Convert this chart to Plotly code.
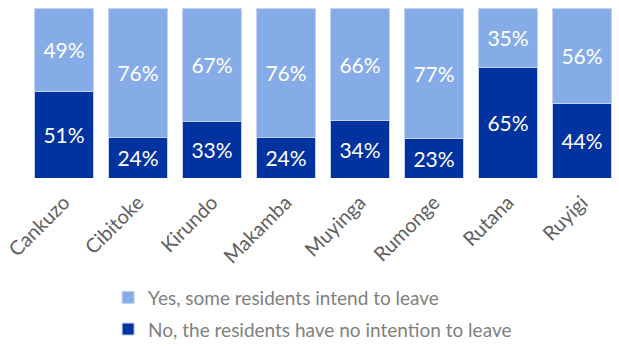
import plotly.graph_objects as go

categories = ["Cankuzo", "Cibitoke", "Kirundo", "Makamba", "Muyinga", "Rumonge", "Rutana", "Ruyigi"]
no_values = [51, 24, 33, 24, 34, 23, 65, 44]
yes_values = [49, 76, 67, 76, 66, 77, 35, 56]
no_name = "No, the residents have no intention to leave"
yes_name = "Yes, some residents intend to leave"

FONT = "Lato"
fig = go.Figure()
fig.add_trace(go.Bar(
    x=categories, y=no_values, name=no_name, legendgroup="no", legendrank=2,
    marker=dict(color="#0033a0", line=dict(color="#c3d2f0", width=1)),
    text=[f"{v}%" for v in no_values], textposition="inside", insidetextanchor="middle",
    textfont=dict(color="white", size=21, family=FONT), textangle=0,
))
fig.add_trace(go.Bar(
    x=categories, y=yes_values, name=yes_name, legendgroup="yes", legendrank=1,
    marker=dict(color="#86ace8", line=dict(color="#c3d2f0", width=1)),
    text=[f"{v}%" for v in yes_values], textposition="inside", insidetextanchor="middle",
    textfont=dict(color="white", size=21, family=FONT), textangle=0,
))
fig.update_layout(
    barmode="stack", bargap=0.2,
    width=619, height=346,
    margin=dict(l=27, r=0, t=8, b=168),
    plot_bgcolor="white", paper_bgcolor="white",
    font=dict(family=FONT, color="#595959"),
    uniformtext=dict(minsize=21, mode="show"),
    xaxis=dict(tickangle=-45, tickfont=dict(size=20, color="#606060", family=FONT),
               showgrid=False, showline=False, ticks="", ticklabelstandoff=8,
               automargin=False),
    yaxis=dict(visible=False, range=[0, 100]),
    legend=dict(orientation="v", x=0.137, xanchor="left",
                yref="container", y=0.195, yanchor="top",
                traceorder="grouped", tracegroupgap=4,
                font=dict(size=19, color="#7f7f7f", family=FONT),
                itemwidth=30),
    showlegend=True,
)
fig.write_html("out.html")
